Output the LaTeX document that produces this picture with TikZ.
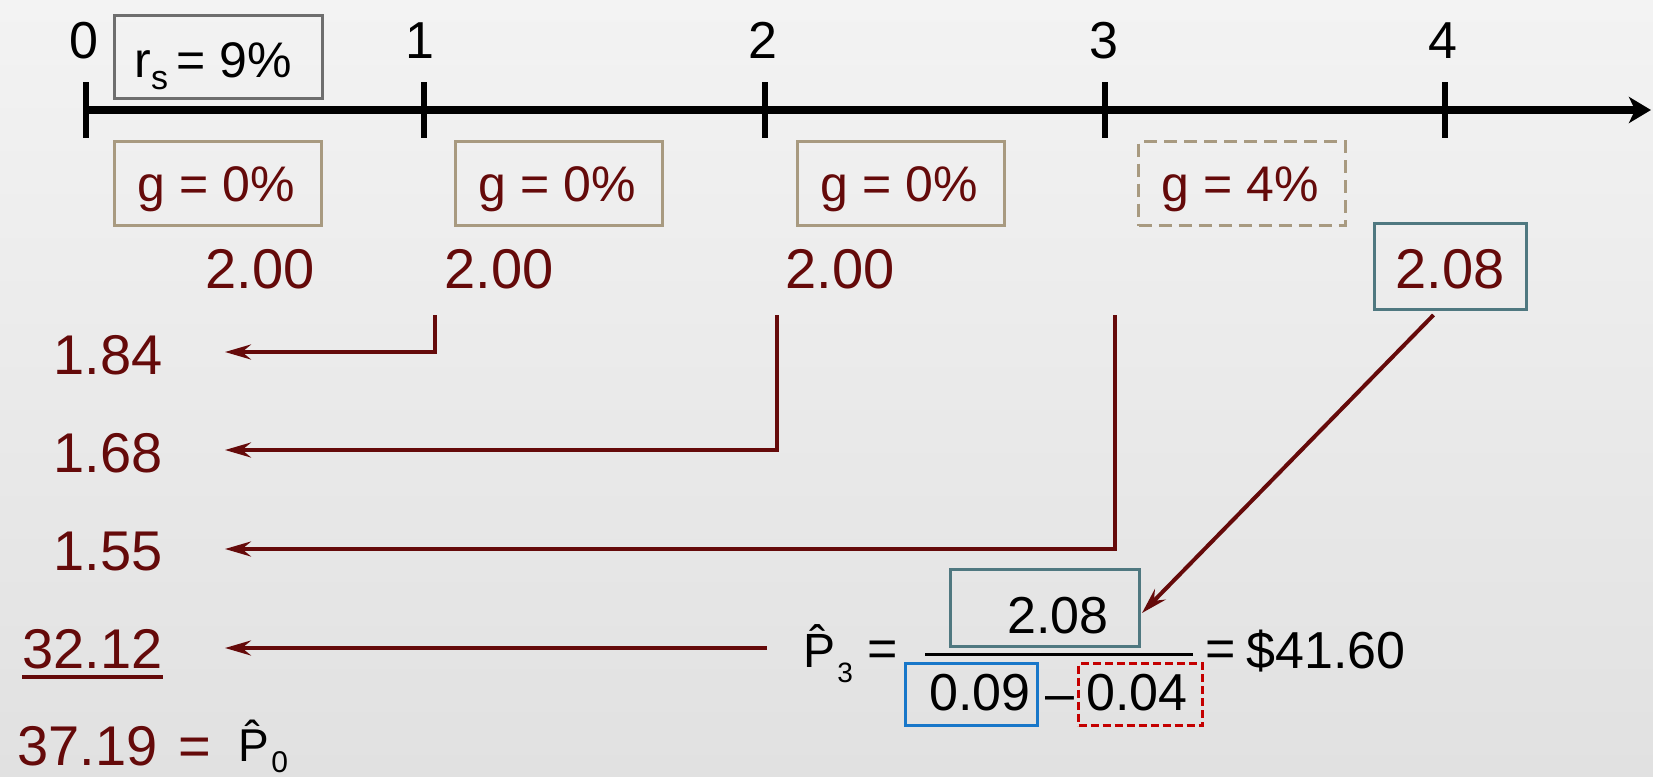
\documentclass[tikz,border=0pt]{standalone}
\usepackage{fontspec}
\setmainfont{Liberation Sans}
\usetikzlibrary{arrows.meta,calc}

\definecolor{wine}{HTML}{650A0A}
\definecolor{tanline}{HTML}{A89A80}
\definecolor{greyline}{HTML}{6E6E6E}
\definecolor{tealline}{HTML}{4F7880}
\definecolor{blueline}{HTML}{1877C9}
\definecolor{redline}{HTML}{C40000}
\definecolor{bgtop}{HTML}{F3F3F3}
\definecolor{bgbottom}{HTML}{E1E1E1}

\tikzset{
  fs/.style={font=\fontsize{#1}{#1}\selectfont},
  ticklabel/.style={fs=26, anchor=base, inner sep=0},
  valtext/.style={fs=28, text=wine, inner sep=0},
  gtext/.style={fs=25, text=wine, anchor=base, inner sep=0},
  frm/.style={fs=26, inner sep=0},
  frame/.style={draw=#1, line width=1.5pt, inner sep=0},
  gbox/.style={frame=tanline, minimum width=103.5pt, minimum height=42pt},
  gboxdash/.style={gbox, dash pattern=on 6.5pt off 3.5pt},
  cflow/.style={draw=wine, line width=2pt, line join=miter,
    -{Stealth[length=13pt,width=7.5pt,inset=4.5pt]}},
  tick/.style={line width=3pt},
}

\begin{document}
\begin{tikzpicture}[x=0.5pt,y=-0.5pt]
% backdrop
\shade[top color=bgtop, bottom color=bgbottom] (0,0) rectangle (1653,776);
\useasboundingbox (0,0) rectangle (1653,776);

% time line with ticks
\coordinate (t0) at (86,110);
\coordinate (tend) at (1651,110);
\draw[line width=4pt, -{Stealth[length=11pt,width=13pt,inset=3pt]}] (t0) -- (tend);
\foreach \x/\n in {86/0,424/1,765/2,1105/3,1445/4}{
  \draw[tick] (\x,82) -- (\x,138);
}
\node[ticklabel] (l0) at (84,58) {0};
\node[ticklabel] (l1) at (420,58) {1};
\node[ticklabel] (l2) at (763,58) {2};
\node[ticklabel] (l3) at (1104,58) {3};
\node[ticklabel] (l4) at (1443,58) {4};

% required return
\node[frame=greyline, minimum width=104pt, minimum height=41.5pt] (rsbox) at (218.5,57) {};
\node[fs=25, anchor=base west, inner sep=0] (rs) at (134,77)
  {r\raisebox{-6pt}{\fontsize{17}{17}\selectfont s}\,= 9\%};

% growth rates
\node[gbox] (g1) at (218,183.5) {};
\node[gbox] (g2) at (559,183.5) {};
\node[gbox] (g3) at (901,183.5) {};
\node[gboxdash] (g4) at (1242,183.5) {};
\node[gtext] (g1t) at (216,201) {g = 0\%};
\node[gtext] (g2t) at (557,201) {g = 0\%};
\node[gtext] (g3t) at (899,201) {g = 0\%};
\node[gtext] (g4t) at (1240,201) {g = 4\%};

% dividends
\node[valtext, anchor=base] (d1) at (260,288) {2.00};
\node[valtext, anchor=base] (d2) at (499,288) {2.00};
\node[valtext, anchor=base] (d3) at (840,288) {2.00};
\node[frame=tealline, minimum width=76pt, minimum height=43pt] (d4box) at (1450.5,266.5) {};
\node[valtext, anchor=base] (d4) at (1450,288) {2.08};

% present values
\node[valtext, anchor=base east] (v1) at (163,374) {1.84};
\node[valtext, anchor=base east] (v2) at (163,472) {1.68};
\node[valtext, anchor=base east] (v3) at (163,570) {1.55};
\node[valtext, anchor=base east] (v4) at (163,668) {32.12};
\draw[wine, line width=2pt] (v4.south west |- 0,677) -- (v4.south east |- 0,677);
\node[valtext, anchor=base west] (v5) at (17,765) {37.19};
\node[valtext, anchor=center] (v5eq) at (195,752) {=};
\node[fs=23, anchor=base west, inner sep=0] (p0) at (238,761) {\^{P}};
\node[fs=15, anchor=base west, inner sep=0] (p0sub) at (271,772) {0};

% terminal value formula
\node[fs=24, anchor=base west, inner sep=0] (p3) at (803,667) {\^{P}};
\node[fs=14, anchor=base west, inner sep=0] (p3sub) at (837,682) {3};
\node[frm, anchor=center] (eq1) at (883,654) {=};
\node[frame=tealline, minimum width=94.5pt, minimum height=38.5pt] (numbox) at (1045,608) {};
\node[frm, anchor=base] (num) at (1058,633) {2.08};
\coordinate (barl) at (925,654);
\coordinate (barr) at (1193,654);
\draw[line width=1.5pt] (barl) -- (barr);
\node[frame=blueline, minimum width=66pt, minimum height=31pt] (rbox) at (971.5,694.5) {};
\node[frm, anchor=base] (rval) at (980,710) {0.09};
\node[frm, anchor=base] (minus) at (1060,711) {–};
\node[frame=redline, dash pattern=on 4pt off 2pt, minimum width=62pt, minimum height=31pt] (gbox4) at (1140.5,694.5) {};
\node[frm, anchor=base] (gval) at (1137,710) {0.04};
\node[frm, anchor=center] (eq2) at (1221,654) {=};
\node[frm, anchor=base west] (p3val) at (1246,668) {\$41.60};

% discounting flows
\coordinate (s1) at (435,315);
\coordinate (s2) at (777,315);
\coordinate (s3) at (1115,315);
\coordinate (e1) at (225,352);
\coordinate (e2) at (225,450);
\coordinate (e3) at (225,549);
\coordinate (e4) at (225,648);
\coordinate (s4) at (767,648);
\draw[cflow] (s1) |- (e1);
\draw[cflow] (s2) |- (e2);
\draw[cflow] (s3) |- (e3);
\draw[cflow] (s4) -- (e4);
\draw[cflow] ($(d4box.south)+(-17,4)$) -- ($(numbox.east)+(1,5)$);
\end{tikzpicture}
\end{document}
